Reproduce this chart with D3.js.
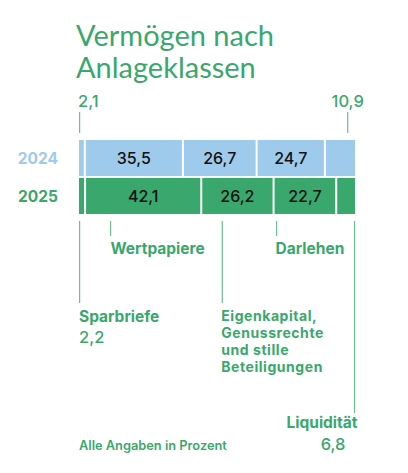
<!DOCTYPE html>
<html>
<head>
<meta charset="utf-8">
<script src="https://cdn.jsdelivr.net/npm/d3@7"></script>
<style>
  html, body { margin: 0; padding: 0; background: #fff; }
  svg { display: block; }
</style>
</head>
<body>
<div id="chart"></div>
<script>
// ---- data ----
const years = ["2024", "2025"];
const categories = ["Sparbriefe", "Wertpapiere", "Eigenkapital, Genussrechte und stille Beteiligungen", "Darlehen", "Liquidität"];
const values2024 = [2.1, 35.5, 26.7, 24.7, 10.9];
const values2025 = [2.2, 42.1, 26.2, 22.7, 6.8];
const titleLines = ["Vermögen nach", "Anlageklassen"];
const footnote = "Alle Angaben in Prozent";

const fmt = v => String(v).replace(".", ",");

const W = 408, H = 473;
const green = "#3aa76d";
const lightBlue = "#9ecaeb";
const lineGreen = "#6cbf92";
const textGreen = "#3aa76d";
const numFont = "Inter, 'Liberation Sans', Arial, sans-serif";
const titleFont = "Lato, 'Noto Sans', sans-serif";

const svg = d3.select("#chart").append("svg").attr("width", W).attr("height", H);

// title
svg.append("g").selectAll("text").data(titleLines).join("text")
  .attr("x", 76).attr("y", (d, i) => 45.5 + i * 32.6)
  .attr("font-family", titleFont).attr("font-size", 29).attr("font-weight", 400)
  .attr("fill", textGreen).text(d => d);

const x = d3.scaleLinear().domain([0, 100]).range([79, 355]);
const y = d3.scaleBand().domain(years).range([140, 214]).paddingInner(0.05);

const rows = [
  { year: "2024", values: values2024, color: lightBlue },
  { year: "2025", values: values2025, color: green }
];

rows.forEach(row => {
  const total = d3.sum(row.values);
  const xr = d3.scaleLinear().domain([0, total]).range(x.range());
  let cum = 0;
  const segs = row.values.map((v, i) => {
    const s = { v, i, x0: cum, x1: cum + v };
    cum += v;
    return s;
  });
  const n = segs.length;
  const g = svg.append("g");
  g.selectAll("rect").data(segs).join("rect")
    .attr("x", d => xr(d.x0) + (d.i > 0 ? 1 : 0))
    .attr("width", d => xr(d.x1) - xr(d.x0) - (d.i > 0 ? 1 : 0) - (d.i < n - 1 ? 1 : 0))
    .attr("y", y(row.year)).attr("height", y.bandwidth())
    .attr("fill", row.color);
  g.selectAll("text").data(segs.filter(d => d.v > 15)).join("text")
    .attr("x", d => (xr(d.x0) + xr(d.x1)) / 2)
    .attr("y", y(row.year) + y.bandwidth() / 2 + 6)
    .attr("text-anchor", "middle")
    .attr("font-family", numFont).attr("font-size", 16).attr("font-weight", 500)
    .attr("fill", "#111").text(d => fmt(d.v));
  // year label
  svg.append("text")
    .attr("x", 58).attr("y", y(row.year) + y.bandwidth() / 2 + 6)
    .attr("text-anchor", "end")
    .attr("font-family", numFont).attr("font-size", 15.5).attr("font-weight", 700)
    .attr("fill", row.color).text(row.year);
});

// ---- annotations ----
const ann = svg.append("g").attr("font-family", numFont).attr("fill", textGreen);
function vline(px, y1, y2) {
  ann.append("line").attr("x1", px).attr("x2", px).attr("y1", y1).attr("y2", y2)
    .attr("stroke", lineGreen).attr("stroke-width", 1.2);
}
const x24 = d3.scaleLinear().domain([0, d3.sum(values2024)]).range(x.range());
const x25 = d3.scaleLinear().domain([0, d3.sum(values2025)]).range(x.range());
// top: 2024 small values
vline(x24(0) + 0.6, 112, 133);
ann.append("text").attr("x", x24(0) - 1).attr("y", 107).attr("font-size", 16.5).attr("font-weight", 500)
  .text(fmt(values2024[0]));
const liq24x = x24(d3.sum(values2024)) - 7.3;
vline(liq24x, 112, 133);
ann.append("text").attr("x", liq24x).attr("y", 107).attr("text-anchor", "middle")
  .attr("font-size", 16.5).attr("font-weight", 500).text(fmt(values2024[4]));

// bottom: 2025
const cum25 = [0];
values2025.forEach((v, i) => cum25.push(cum25[i] + v));
// Sparbriefe
vline(x25(0) + 0.6, 221, 303);
ann.append("text").attr("x", x25(0)).attr("y", 322).attr("font-size", 15.5).attr("font-weight", 700)
  .text(categories[0]);
ann.append("text").attr("x", x25(0)).attr("y", 343).attr("font-size", 16.5).attr("font-weight", 500)
  .text(fmt(values2025[0]));
// Wertpapiere
const wpX = x25(cum25[1]) + 25.5;
vline(wpX, 221, 236);
ann.append("text").attr("x", wpX).attr("y", 254).attr("font-size", 15.5).attr("font-weight", 700)
  .text(categories[1]);
// Eigenkapital (one text, wrapped into tspans)
const ekX = x25(cum25[2]) + 21;
vline(ekX, 221, 303);
const ekLines = ["Eigenkapital,", "Genussrechte", "und stille", "Beteiligungen"];
ann.append("g").selectAll("text").data(ekLines).join("text")
  .attr("x", ekX - 1).attr("y", (d, i) => 321 + i * 17)
  .attr("font-size", 14).attr("letter-spacing", 0.55).attr("font-weight", 700)
  .text(d => d);
// Darlehen
const dlX = x25(cum25[3]) + 3;
vline(dlX, 221, 236);
ann.append("text").attr("x", dlX - 1).attr("y", 254).attr("font-size", 15.5).attr("font-weight", 700)
  .text(categories[3]);
// Liquidität
const lqX = x25(cum25[5]) - 0.5;
vline(lqX, 221, 413);
ann.append("text").attr("x", lqX + 3).attr("y", 428).attr("text-anchor", "end")
  .attr("font-size", 15.5).attr("font-weight", 700).text(categories[4]);
ann.append("text").attr("x", lqX - 9).attr("y", 450).attr("text-anchor", "end")
  .attr("font-size", 16.5).attr("font-weight", 500).text(fmt(values2025[4]));

// footnote
ann.append("text").attr("x", 79).attr("y", 450).attr("font-size", 12.8).attr("font-weight", 600)
  .text(footnote);
</script>
</body>
</html>
